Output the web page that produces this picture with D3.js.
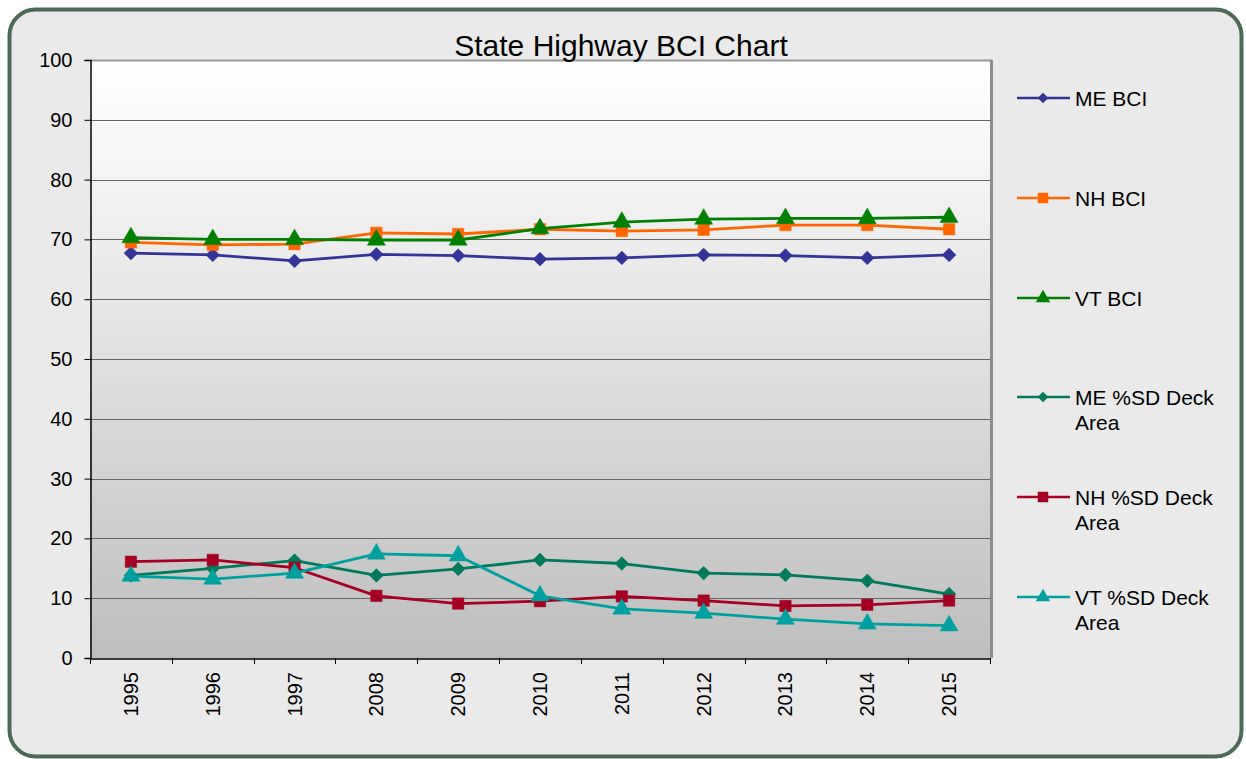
<!DOCTYPE html>
<html>
<head>
<meta charset="utf-8">
<script src="https://cdn.jsdelivr.net/npm/d3@7"></script>
<style>
  html, body { margin: 0; padding: 0; background: #ffffff; }
  svg { display: block; font-family: "Liberation Sans", Arial, sans-serif; }
</style>
</head>
<body>
<svg id="chart" width="1246" height="759"></svg>
<script>
// Survey years along the category axis
const years = ["1995", "1996", "1997", "2008", "2009", "2010", "2011", "2012", "2013", "2014", "2015"];

// Bridge Condition Index per state
const meBCI = [67.7, 67.4, 66.4, 67.5, 67.3, 66.7, 66.9, 67.4, 67.3, 66.9, 67.4];
const nhBCI = [69.5, 69.1, 69.2, 71.1, 70.9, 71.7, 71.4, 71.6, 72.4, 72.4, 71.7];
const vtBCI = [70.3, 70.0, 70.0, 69.9, 69.9, 71.8, 72.9, 73.4, 73.5, 73.5, 73.7];

// Percent structurally deficient deck area per state
const meSD = [13.8, 15.0, 16.3, 13.8, 14.9, 16.4, 15.8, 14.2, 13.9, 12.9, 10.7];
const nhSD = [16.1, 16.4, 15.1, 10.4, 9.1, 9.5, 10.3, 9.6, 8.7, 8.9, 9.6];
const vtSD = [13.7, 13.2, 14.2, 17.4, 17.1, 10.4, 8.2, 7.5, 6.5, 5.7, 5.4];

const yTicks = [0, 10, 20, 30, 40, 50, 60, 70, 80, 90, 100];

const seriesNames = ["ME BCI", "NH BCI", "VT BCI", "ME %SD Deck Area", "NH %SD Deck Area", "VT %SD Deck Area"];
const seriesValues = [meBCI, nhBCI, vtBCI, meSD, nhSD, vtSD];
const seriesColors = ["#333399", "#FF6600", "#008000", "#007A5A", "#A50021", "#00A0A0"];
const seriesShapes = ["diamond", "square", "triangle", "diamond", "square", "triangle"];

const FONT = "Liberation Sans, Arial, sans-serif";
const svg = d3.select("#chart");
const W = 1246, H = 759;

// Outer chart panel with rounded frame
svg.append("rect")
  .attr("x", 9.5).attr("y", 9.5)
  .attr("width", W - 14).attr("height", H - 12)
  .attr("rx", 26).attr("ry", 26)
  .attr("fill", "#EAEAEA")
  .attr("stroke", "#4D6A58")
  .attr("stroke-width", 4);

const plot = { left: 90, right: 990, top: 60, bottom: 658 };

const x = d3.scaleBand().domain(years).range([plot.left, plot.right]).paddingInner(0).paddingOuter(0);
const y = d3.scaleLinear().domain([0, 100]).range([plot.bottom, plot.top]);

// Plot area gradient fill
const defs = svg.append("defs");
const grad = defs.append("linearGradient").attr("id", "plotFill")
  .attr("x1", 0).attr("y1", 0).attr("x2", 0).attr("y2", 1);
grad.append("stop").attr("offset", "0%").attr("stop-color", "#FFFFFF");
grad.append("stop").attr("offset", "35%").attr("stop-color", "#EAEAEA");
grad.append("stop").attr("offset", "100%").attr("stop-color", "#BEBEBE");

svg.append("rect")
  .attr("x", plot.left).attr("y", plot.top)
  .attr("width", plot.right - plot.left).attr("height", plot.bottom - plot.top)
  .attr("fill", "url(#plotFill)");

// Horizontal gridlines
svg.append("g")
  .selectAll("line")
  .data(yTicks.filter(d => d > 0 && d < 100))
  .join("line")
  .attr("x1", plot.left).attr("x2", plot.right)
  .attr("y1", d => Math.round(y(d)) + 0.5).attr("y2", d => Math.round(y(d)) + 0.5)
  .attr("stroke", "#666666").attr("stroke-width", 1);

// Plot area top and right borders
svg.append("line")
  .attr("x1", plot.left).attr("x2", plot.right + 2)
  .attr("y1", plot.top + 0.5).attr("y2", plot.top + 0.5)
  .attr("stroke", "#9A9A9A").attr("stroke-width", 2);
svg.append("line")
  .attr("x1", plot.right + 1.5).attr("x2", plot.right + 1.5)
  .attr("y1", plot.top).attr("y2", plot.bottom)
  .attr("stroke", "#8C8C8C").attr("stroke-width", 3);

// Y axis
const yAxis = d3.axisLeft(y).tickValues(yTicks).tickSize(6).tickPadding(12);
const gy = svg.append("g").attr("transform", `translate(${plot.left + 0.5},0)`).call(yAxis);
gy.attr("font-family", FONT).attr("font-size", 20);
gy.select(".domain").attr("stroke", "#000").attr("stroke-width", 1.5);
gy.selectAll(".tick line").attr("stroke", "#000");
gy.selectAll(".tick text").attr("fill", "#000");

// X axis (tick marks between categories, labels rotated)
const xAxis = d3.axisBottom(x).tickSize(0).tickFormat("");
const gx = svg.append("g").attr("transform", `translate(0,${plot.bottom + 0.5})`).call(xAxis);
gx.select(".domain").attr("stroke", "#000").attr("stroke-width", 1.5);

const boundaries = years.map(d => x(d)).concat([plot.right]);
svg.append("g").selectAll("line")
  .data(boundaries)
  .join("line")
  .attr("x1", d => Math.round(d) + 0.5).attr("x2", d => Math.round(d) + 0.5)
  .attr("y1", plot.bottom).attr("y2", plot.bottom + 6)
  .attr("stroke", "#000").attr("stroke-width", 1);

svg.append("g").selectAll("text")
  .data(years)
  .join("text")
  .attr("transform", d => `translate(${x(d) + x.bandwidth() / 2 + 7},${plot.bottom + 14}) rotate(-90)`)
  .attr("text-anchor", "end")
  .attr("font-family", FONT)
  .attr("font-size", 20)
  .attr("fill", "#000")
  .text(d => d);

// Title
svg.append("text")
  .attr("x", 621).attr("y", 56)
  .attr("text-anchor", "middle")
  .attr("font-family", FONT)
  .attr("font-size", 30)
  .attr("fill", "#000")
  .text("State Highway BCI Chart");

// Marker symbols
function symbolFor(shape) {
  if (shape === "diamond") return d3.symbol().type(d3.symbolDiamond2).size(120)();
  if (shape === "square") return d3.symbol().type(d3.symbolSquare).size(130)();
  return d3.symbol().type(d3.symbolTriangle).size(140)();
}

const line = d3.line()
  .x((d, i) => x(years[i]) + x.bandwidth() / 2)
  .y(d => y(d));

const seriesG = svg.append("g");
seriesValues.forEach((vals, s) => {
  const g = seriesG.append("g");
  g.append("path")
    .attr("d", line(vals))
    .attr("fill", "none")
    .attr("stroke", seriesColors[s])
    .attr("stroke-width", 2.8)
    .attr("stroke-linejoin", "round");
  g.selectAll("path.m")
    .data(vals)
    .join("path")
    .attr("class", "m")
    .attr("d", symbolFor(seriesShapes[s]))
    .attr("transform", (d, i) => `translate(${x(years[i]) + x.bandwidth() / 2},${y(d)})`)
    .attr("fill", seriesColors[s])
    .attr("stroke", seriesColors[s])
    .attr("stroke-opacity", 0.5)
    .attr("stroke-width", 1);
});

// Legend
const legendRows = [98, 198, 298, 397, 497, 597];
const legend = svg.append("g");
seriesNames.forEach((name, s) => {
  const ly = legendRows[s];
  const g = legend.append("g").attr("transform", `translate(0,${ly})`);
  g.append("line")
    .attr("x1", 1017).attr("x2", 1070)
    .attr("y1", 0).attr("y2", 0)
    .attr("stroke", seriesColors[s]).attr("stroke-width", 2.6);
  const sz = seriesShapes[s] === "diamond" ? 70 : seriesShapes[s] === "square" ? 110 : 90;
  const sym = seriesShapes[s] === "diamond" ? d3.symbolDiamond2 : seriesShapes[s] === "square" ? d3.symbolSquare : d3.symbolTriangle;
  g.append("path")
    .attr("d", d3.symbol().type(sym).size(sz)())
    .attr("transform", "translate(1043,0)")
    .attr("fill", seriesColors[s]);
  const parts = name.includes("%SD") ? [name.replace(" Area", ""), "Area"] : [name];
  const t = g.append("text")
    .attr("x", 1075).attr("y", 7.5)
    .attr("font-family", FONT)
    .attr("font-size", 21)
    .attr("fill", "#000");
  parts.forEach((p, k) => {
    t.append("tspan").attr("x", 1075).attr("dy", k === 0 ? 0 : 25).text(p);
  });
});
</script>
</body>
</html>
